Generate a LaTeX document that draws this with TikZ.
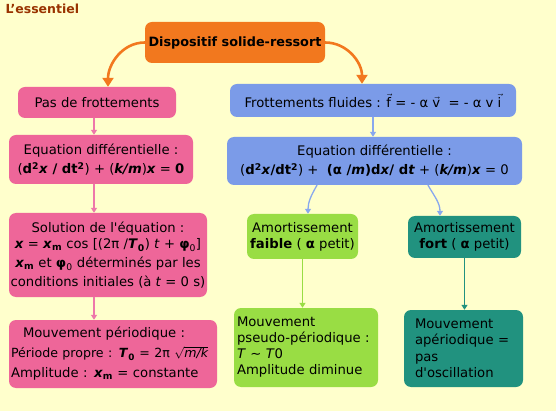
\documentclass[tikz,border=0pt]{standalone}
\usepackage{fontspec}
\setmainfont{DejaVu Sans}
\usepackage{amsmath}
\usetikzlibrary{arrows.meta, calc}
\definecolor{fond}{HTML}{FFFFCC}
\definecolor{titre}{HTML}{993300}
\definecolor{orangebox}{HTML}{F2781E}
\definecolor{rosebox}{HTML}{EE6699}
\definecolor{rosearr}{HTML}{EE77AA}
\definecolor{bleubox}{HTML}{7B9BE8}
\definecolor{bleuarr}{HTML}{88A8EE}
\definecolor{vertbox}{HTML}{99DD44}
\definecolor{tealbox}{HTML}{21927F}
\newcommand{\bxi}[1]{\textbf{\textit{#1}}}

\begin{document}
\begin{tikzpicture}[
  x=1pt, y=-1pt,
  line cap=round, line join=round,
  box/.style={rounded corners=7pt, inner sep=2pt, text=black,
    font=\fontsize{13.2}{16}\selectfont},
  rose/.style={box, fill=rosebox},
  bleu/.style={box, fill=bleubox},
  vert/.style={box, fill=vertbox},
  sarc/.style={box, fill=tealbox},
  orangearr/.style={draw=orangebox, line width=2.6pt,
    -{Triangle[width=11pt,length=9pt]}},
  arr/.style={line width=1.3pt, -{Triangle[width=6pt,length=5pt]}}
]
  % background and title
  \fill[fond] (0,0) rectangle (556,411);
  \useasboundingbox (0,0) rectangle (556,411);
  \node[anchor=west, text=titre, font=\fontsize{12.5}{14}\selectfont\bfseries]
    (ttl) at (2,9) {L’essentiel};
  % top box
  \node[box, fill=orangebox, minimum width=180pt, minimum height=41pt,
    font=\fontsize{12.8}{15}\selectfont\bfseries] (top) at (235,42.5)
    {Dispositif solide-ressort};
  % left column : no friction
  \node[rose, minimum width=158pt, minimum height=31pt] (pas) at (97,102.5)
    {Pas de frottements};
  \node[rose, minimum width=184pt, minimum height=49pt, align=center] (eqA) at (101,159.5)
    {Equation différentielle :\\[3pt]
     (\textbf{d\textsuperscript{2}\textit{x} / dt\textsuperscript{2}}) + (\bxi{k/m})\bxi{x} = \textbf{0}};
  \node[rose, minimum width=198pt, minimum height=84pt, align=center, inner xsep=0pt] (sol) at (108,255)
    {Solution de l\textquotesingle équation :\\
     \bxi{x} = \bxi{x}\textsubscript{\textbf{m}} cos [(2π /\bxi{T}\textsubscript{\textbf{0}}) \textit{t} + \textbf{φ}\textsubscript{0}]\\[3pt]
     \bxi{x}\textsubscript{\textbf{m}} et \textbf{φ}\textsubscript{0} déterminés par les\\[3pt]
     conditions initiales (à \textit{t} = 0 s)};
  \node[rose, minimum width=208pt, minimum height=68pt, text width=204pt,
    inner xsep=2pt, align=left] (mvA) at (113,354)
    {\hspace*{12pt}Mouvement périodique :\\[4pt]
     {\fontsize{12.6}{16}\selectfont Période propre : \bxi{T}\textsubscript{\textbf{0}} = 2π $\sqrt{\text{\itshape m/k}}$}\\[4pt]
     Amplitude : \bxi{x}\textsubscript{\textbf{m}} = constante};
  % right column : fluid friction
  \node[bleu, minimum width=286pt, minimum height=33pt] (flu) at (373,100.5)
    {Frottements fluides : $\vec{\text{f}}$ = - α $\vec{\text{v}}$ \ = - α v $\vec{\text{i}}$};
  \node[bleu, minimum width=295pt, minimum height=48pt, align=center] (eqB) at (374.5,161)
    {Equation différentielle :\\[3pt]
     (\textbf{d\textsuperscript{2}\textit{x}/dt\textsuperscript{2}}) + \ \textbf{(α /\textit{m})d\textit{x}/ d\textit{t}} + (\bxi{k/m})\bxi{x} = 0};
  \node[vert, minimum width=111pt, minimum height=45pt, align=center] (faible) at (302.5,236.5)
    {Amortissement\\ \textbf{faible} ( \textbf{α} petit)};
  \node[sarc, minimum width=113pt, minimum height=42pt, align=center] (fort) at (464.5,237)
    {Amortissement\\ \textbf{fort} ( \textbf{α} petit)};
  \node[vert, minimum width=144pt, minimum height=79pt, text width=138pt,
    inner xsep=3pt, align=left] (mvB) at (306,347.5)
    {Mouvement\\ pseudo-périodique :\\ \textit{T} ∼ \textit{T}0\\ Amplitude diminue};
  \node[sarc, minimum width=119pt, minimum height=77pt, text width=97pt,
    inner xsep=11pt, align=left, font=\fontsize{13.2}{16.5}\selectfont] (mvC) at (463.5,348.5)
    {Mouvement\\ apériodique =\\ pas\\ d\textquotesingle oscillation};
  % connectors
  \coordinate (pk) at (94,0);
  \draw[orangearr] (top.west) to[out=180, in=90] ($(pas.north)+(11,0)$);
  \draw[orangearr] (top.east) to[out=0, in=90] ($(flu.north)+(-11,0)$);
  \draw[arr, rosearr] (pas.south -| pk) -- (eqA.north -| pk);
  \draw[arr, rosearr] (eqA.south -| pk) -- (sol.north -| pk);
  \draw[arr, rosearr] (sol.south -| pk) -- (mvA.north -| pk);
  \draw[arr, bleuarr] (flu.south) -- (flu.south |- eqB.north);
  \draw[arr, bleuarr] ($(eqB.south)+(-57.5,0)$) to[out=240, in=90] ($(faible.north)+(5.5,0)$);
  \draw[arr, bleuarr] ($(eqB.south)+(53.5,0)$) to[out=-60, in=90] ($(fort.north)+(-24.5,0)$);
  \draw[arr, vertbox] (faible.south) -- (faible.south |- mvB.north);
  \draw[arr, tealbox] (fort.south) -- (fort.south |- mvC.north);
\end{tikzpicture}
\end{document}
